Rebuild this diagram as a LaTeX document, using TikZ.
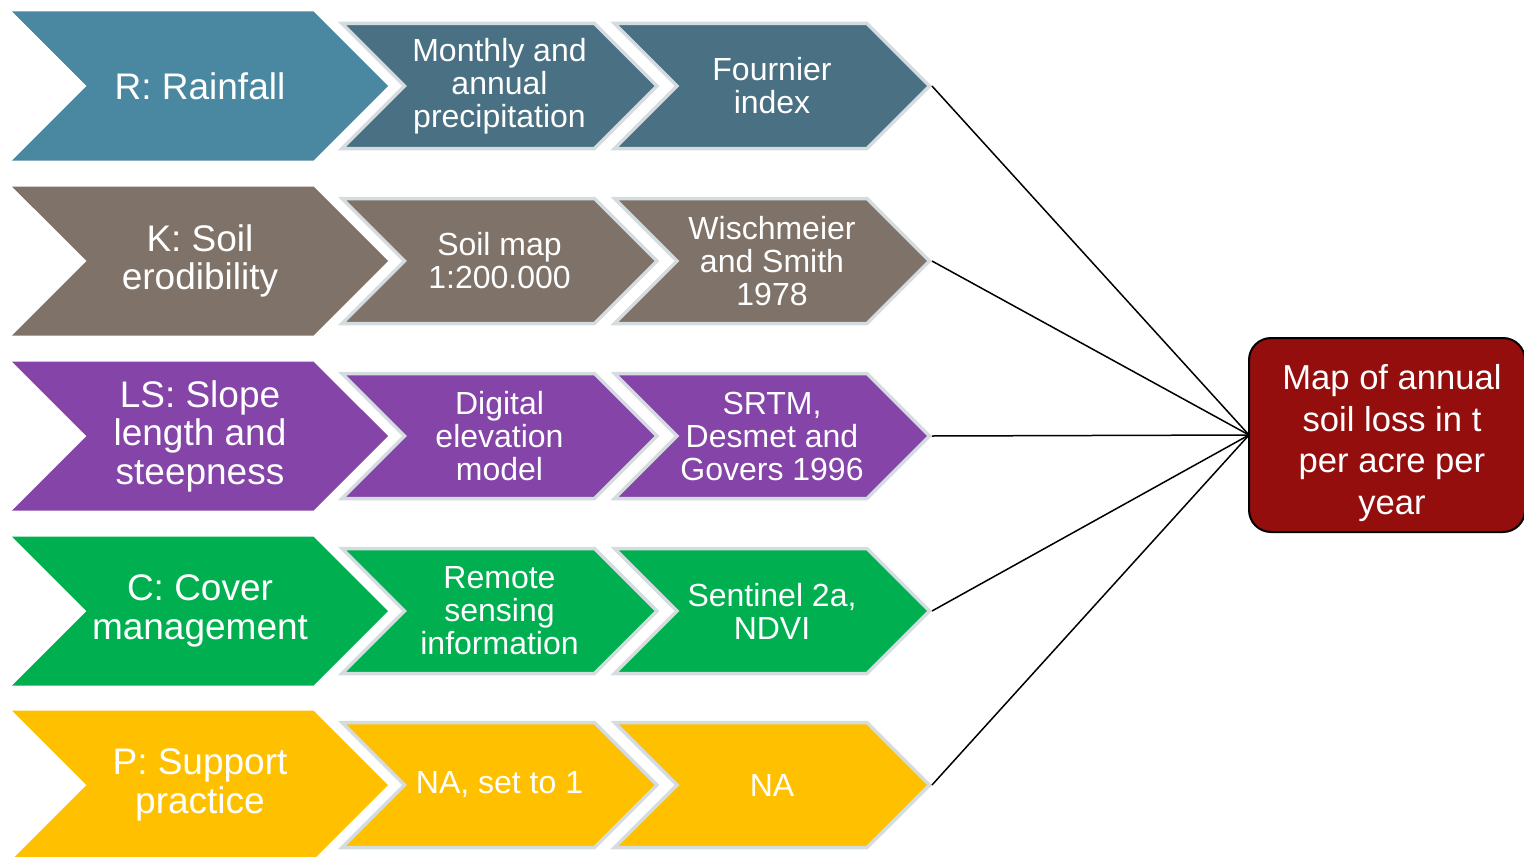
\documentclass[tikz,border=0pt]{standalone}
\usepackage{fontspec}
\setmainfont{Liberation Sans}
\usetikzlibrary{shapes.symbols, positioning}
\definecolor{bluR}{RGB}{74,135,160}
\definecolor{bluRs}{RGB}{74,113,131}
\definecolor{marroneK}{RGB}{127,114,104}
\definecolor{violaLS}{RGB}{132,68,168}
\definecolor{verdeC}{RGB}{0,176,80}
\definecolor{gialloP}{RGB}{255,192,0}
\definecolor{rossoMap}{RGB}{148,14,14}
\definecolor{bordo}{RGB}{213,220,224}

\begin{document}
\begin{tikzpicture}[x=0.5pt,y=-0.5pt,
    grande/.style={signal, signal to=east, signal from=west, signal pointer angle=90,
        minimum width=188pt, minimum height=74.5pt, inner sep=0pt, align=center,
        text=white, font=\fontsize{18.5}{19.25}\selectfont},
    piccola/.style={signal, signal to=east, signal from=west, signal pointer angle=90,
        minimum width=157.5pt, minimum height=62.5pt, inner sep=0pt, align=center,
        draw=bordo, line width=1.75pt, text=white, font=\fontsize{16}{16.5}\selectfont},
    mappa/.style={draw=black, line width=1pt, fill=rossoMap, rounded corners=11pt,
        minimum width=138pt, minimum height=97pt},
    testo/.style={align=center, text=white, inner sep=0pt,
        font=\fontsize{17.3}{20.9}\selectfont}]
    \useasboundingbox (0,0) rectangle (1524,856);
    %riga R
    \node[grande, fill=bluR] (R1) at (200,86) {R: Rainfall};
    \node[piccola, fill=bluRs] (R2) at (499.5,86) {Monthly and\\annual\\precipitation};
    \node[piccola, fill=bluRs] (R3) at (772,86) {Fournier\\index};
    %riga K
    \node[grande, fill=marroneK] (K1) at (200,261) {K: Soil\\erodibility};
    \node[piccola, fill=marroneK] (K2) at (499.5,261) {Soil map\\1:200.000};
    \node[piccola, fill=marroneK] (K3) at (772,261) {Wischmeier\\and Smith\\1978};
    %riga LS
    \node[grande, fill=violaLS] (LS1) at (200,436) {LS: Slope\\length and\\steepness};
    \node[piccola, fill=violaLS] (LS2) at (499.5,436) {Digital\\elevation\\model};
    \node[piccola, fill=violaLS] (LS3) at (772,436) {SRTM,\\Desmet and\\Govers 1996};
    %riga C
    \node[grande, fill=verdeC] (C1) at (200,611) {C: Cover\\management};
    \node[piccola, fill=verdeC] (C2) at (499.5,611) {Remote\\sensing\\information};
    \node[piccola, fill=verdeC] (C3) at (772,611) {Sentinel 2a,\\NDVI};
    %riga P
    \node[grande, fill=gialloP] (P1) at (200,785) {P: Support\\practice};
    \node[piccola, fill=gialloP] (P2) at (499.5,785) {NA, set to 1};
    \node[piccola, fill=gialloP] (P3) at (772,785) {NA};
    %collegamenti alla mappa
    \coordinate (ingresso) at (1249,435);
    \draw[line width=0.75pt] (R3.east) -- (ingresso);
    \draw[line width=0.75pt] (K3.east) -- (ingresso);
    \draw[line width=0.75pt] (LS3.east) -- (ingresso);
    \draw[line width=0.75pt] (C3.east) -- (ingresso);
    \draw[line width=0.75pt] (P3.east) -- (ingresso);
    %mappa finale
    \node[mappa] (M) at (1387,435) {};
    \node[testo] (Mtesto) at (1392,443) {Map of annual\\soil loss in t\\per acre per\\year};
\end{tikzpicture}
\end{document}
